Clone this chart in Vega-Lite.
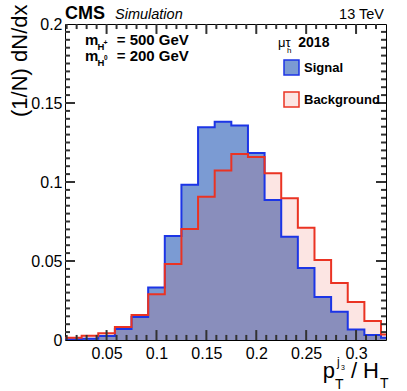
{
"$schema":"https://vega.github.io/schema/vega-lite/v6.json",
"width":321,"height":316,"autosize":"none",
"padding":{"left":65,"top":24,"right":21,"bottom":51},
"background":"white",
"config":{"view":{"stroke":null},"font":"Liberation Sans",
 "axis":{"labelFont":"Liberation Sans","labelFontSize":16,"labelColor":"black","domainColor":"black","grid":false,"domainWidth":1,"labelFlush":false,"labelOverlap":false,"titleColor":"black","zindex":2},
 "legend":{"symbolType":"square","symbolSize":225,"symbolStrokeWidth":1.5,"labelFont":"Liberation Sans","labelFontWeight":"bold","labelFontSize":13,"labelColor":"black","labelOffset":4,"rowPadding":11,"padding":0},
 "text":{"font":"Liberation Sans","color":"black","baseline":"alphabetic"}
},
"datasets":{
 "xmajor":[{"v":0.05},{"v":0.1},{"v":0.15},{"v":0.2},{"v":0.25},{"v":0.3}],
 "xminor":[{"v":0.01},{"v":0.02},{"v":0.03},{"v":0.04},{"v":0.06},{"v":0.07},{"v":0.08},{"v":0.09},{"v":0.11},{"v":0.12},{"v":0.13},{"v":0.14},{"v":0.16},{"v":0.17},{"v":0.18},{"v":0.19},{"v":0.21},{"v":0.22},{"v":0.23},{"v":0.24},{"v":0.26},{"v":0.27},{"v":0.28},{"v":0.29},{"v":0.31},{"v":0.32}],
 "ymajor":[{"v":0.05},{"v":0.1},{"v":0.15}],
 "yminor":[{"v":0.005},{"v":0.01},{"v":0.015},{"v":0.02},{"v":0.025},{"v":0.03},{"v":0.035},{"v":0.04},{"v":0.045},{"v":0.055},{"v":0.06},{"v":0.065},{"v":0.07},{"v":0.075},{"v":0.08},{"v":0.085},{"v":0.09},{"v":0.095},{"v":0.105},{"v":0.11},{"v":0.115},{"v":0.12},{"v":0.125},{"v":0.13},{"v":0.135},{"v":0.14},{"v":0.145},{"v":0.155},{"v":0.16},{"v":0.165},{"v":0.17},{"v":0.175},{"v":0.18},{"v":0.185},{"v":0.19},{"v":0.195}]
},
"data":{"values":[
{"x":0.008333,"Signal":0.0005,"Background":0.0015},
{"x":0.025,"Signal":0.0008,"Background":0.0027},
{"x":0.041667,"Signal":0.0025,"Background":0.0042},
{"x":0.058333,"Signal":0.007,"Background":0.0082},
{"x":0.075,"Signal":0.0146,"Background":0.0158},
{"x":0.091667,"Signal":0.0332,"Background":0.0289},
{"x":0.108333,"Signal":0.0658,"Background":0.0481},
{"x":0.125,"Signal":0.0983,"Background":0.0703},
{"x":0.141667,"Signal":0.1346,"Background":0.0907},
{"x":0.158333,"Signal":0.1382,"Background":0.1072},
{"x":0.175,"Signal":0.1357,"Background":0.1177},
{"x":0.191667,"Signal":0.1184,"Background":0.1158},
{"x":0.208333,"Signal":0.0886,"Background":0.1055},
{"x":0.225,"Signal":0.0654,"Background":0.0897},
{"x":0.241667,"Signal":0.0456,"Background":0.071},
{"x":0.258333,"Signal":0.0272,"Background":0.0506},
{"x":0.275,"Signal":0.0179,"Background":0.0361},
{"x":0.291667,"Signal":0.0067,"Background":0.024},
{"x":0.308333,"Signal":0.0031,"Background":0.0121},
{"x":0.325,"Signal":0.0015,"Background":0.0035},
{"x":0.341667,"Signal":0.0015,"Background":0.0035}
]},
"resolve":{"axis":{"x":"independent","y":"independent"}},
"layer":[
{"transform":[{"fold":["Signal","Background"],"as":["series","value"]},{"filter":"datum.series === 'Signal'"}],
 "mark":{"type":"area","interpolate":"step-after","strokeWidth":0,"clip":true},
 "encoding":{
  "x":{"field":"x","type":"quantitative","scale":{"domain":[0.008333,0.33],"nice":false,"zero":false},"axis":{"orient":"bottom","values":[0.05,0.1,0.15,0.2,0.25,0.3],"format":"~g","ticks":false,"labelPadding":5,"domain":false,"title":null}},
  "y":{"field":"value","type":"quantitative","stack":null,"scale":{"domain":[0,0.2],"nice":false},"axis":{"orient":"left","values":[0,0.05,0.1,0.15,0.2],"format":"~g","ticks":false,"labelPadding":3,"domain":false,"title":null}},
  "fill":{"field":"series","type":"nominal","scale":{"domain":["Signal","Background"],"range":["#7b9bd3","rgba(234,51,35,0.13)"]},"legend":{"orient":"none","legendX":218,"legendY":35,"title":null}},
  "stroke":{"field":"series","type":"nominal","scale":{"domain":["Signal","Background"],"range":["#1c35e6","#ea3323"]},"legend":{"orient":"none","legendX":218,"legendY":35,"title":null}}
 }},
{"transform":[{"fold":["Signal","Background"],"as":["series","value"]},{"filter":"datum.series === 'Background'"}],
 "mark":{"type":"area","interpolate":"step-after","strokeWidth":0,"clip":true},
 "encoding":{
  "x":{"field":"x","type":"quantitative","axis":null},
  "y":{"field":"value","type":"quantitative","stack":null,"axis":null},
  "fill":{"field":"series","type":"nominal","scale":{"domain":["Signal","Background"],"range":["#7b9bd3","rgba(234,51,35,0.13)"]},"legend":{"orient":"none","legendX":218,"legendY":35,"title":null}},
  "stroke":{"field":"series","type":"nominal","scale":{"domain":["Signal","Background"],"range":["#1c35e6","#ea3323"]},"legend":{"orient":"none","legendX":218,"legendY":35,"title":null}}
 }},
{"mark":{"type":"line","interpolate":"step-after","color":"#1c35e6","strokeWidth":2,"clip":true},
 "encoding":{"x":{"field":"x","type":"quantitative","axis":null},"y":{"field":"Signal","type":"quantitative","axis":null}}},
{"mark":{"type":"line","interpolate":"step-after","color":"#ea3323","strokeWidth":2,"clip":true},
 "encoding":{"x":{"field":"x","type":"quantitative","axis":null},"y":{"field":"Background","type":"quantitative","axis":null}}},
{"data":{"name":"xmajor"},"mark":{"type":"rule","color":"#333333","strokeWidth":2,"opacity":1},
 "encoding":{"x":{"field":"v","type":"quantitative","axis":null},"y":{"datum":0,"type":"quantitative","axis":null},"y2":{"datum":0.0063}}},
{"data":{"name":"xmajor"},"mark":{"type":"rule","color":"#333333","strokeWidth":2,"opacity":1},
 "encoding":{"x":{"field":"v","type":"quantitative","axis":null},"y":{"datum":0.2,"type":"quantitative","axis":null},"y2":{"datum":0.1937}}},
{"data":{"name":"xminor"},"mark":{"type":"rule","color":"#333333","strokeWidth":2,"opacity":1},
 "encoding":{"x":{"field":"v","type":"quantitative","axis":null},"y":{"datum":0,"type":"quantitative","axis":null},"y2":{"datum":0.0032}}},
{"data":{"name":"xminor"},"mark":{"type":"rule","color":"#333333","strokeWidth":2,"opacity":1},
 "encoding":{"x":{"field":"v","type":"quantitative","axis":null},"y":{"datum":0.2,"type":"quantitative","axis":null},"y2":{"datum":0.1968}}},
{"data":{"name":"ymajor"},"mark":{"type":"rule","color":"#333333","strokeWidth":2,"opacity":1},
 "encoding":{"y":{"field":"v","type":"quantitative","axis":null},"x":{"datum":0.008333,"type":"quantitative","axis":null},"x2":{"datum":0.018333}}},
{"data":{"name":"ymajor"},"mark":{"type":"rule","color":"#333333","strokeWidth":2,"opacity":1},
 "encoding":{"y":{"field":"v","type":"quantitative","axis":null},"x":{"datum":0.33,"type":"quantitative","axis":null},"x2":{"datum":0.32}}},
{"data":{"name":"yminor"},"mark":{"type":"rule","color":"#333333","strokeWidth":2,"opacity":1},
 "encoding":{"y":{"field":"v","type":"quantitative","axis":null},"x":{"datum":0.008333,"type":"quantitative","axis":null},"x2":{"datum":0.013333}}},
{"data":{"name":"yminor"},"mark":{"type":"rule","color":"#333333","strokeWidth":2,"opacity":1},
 "encoding":{"y":{"field":"v","type":"quantitative","axis":null},"x":{"datum":0.33,"type":"quantitative","axis":null},"x2":{"datum":0.325}}},
{"data":{"values":[{}]},"mark":{"type":"text","text":"CMS","fontWeight":"bold","fontSize":18,"align":"left","dx":0,"dy":-5.5},
 "encoding":{"x":{"datum":0.008333,"type":"quantitative","axis":{"orient":"bottom","ticks":false,"labels":false,"domain":true,"title":null}},"y":{"datum":0.2,"type":"quantitative","axis":{"orient":"left","ticks":false,"labels":false,"domain":true,"title":"(1/N) dN/dx","titleFont":"Liberation Sans","titleFontSize":22,"titleFontWeight":"normal","titleAlign":"right","titleBaseline":"alphabetic","titleAngle":-90,"titleX":-39,"titleY":-20}}}},
{"data":{"values":[{}]},"mark":{"type":"text","text":"Simulation","fontStyle":"italic","fontSize":14.5,"align":"left","dx":50,"dy":-5.5},
 "encoding":{"x":{"datum":0.008333,"type":"quantitative","axis":null},"y":{"datum":0.2,"type":"quantitative","axis":null}}},
{"data":{"values":[{}]},"mark":{"type":"text","text":"13 TeV","fontSize":14.5,"align":"right","dx":-2,"dy":-5.5},
 "encoding":{"x":{"datum":0.33,"type":"quantitative","axis":{"orient":"top","ticks":false,"labels":false,"domain":true,"title":null}},"y":{"datum":0.2,"type":"quantitative","axis":{"orient":"right","ticks":false,"labels":false,"domain":true,"title":null}}}},
{"data":{"values":[{}]},"mark":{"type":"text","text":"m","fontWeight":"bold","fontSize":15,"align":"left","dx":20,"dy":20.7},
 "encoding":{"x":{"datum":0.008333,"type":"quantitative","axis":null},"y":{"datum":0.2,"type":"quantitative","axis":null}}},
{"data":{"values":[{}]},"mark":{"type":"text","text":"H","fontWeight":"bold","fontSize":9.5,"align":"left","dx":32.5,"dy":25.5},
 "encoding":{"x":{"datum":0.008333,"type":"quantitative","axis":null},"y":{"datum":0.2,"type":"quantitative","axis":null}}},
{"data":{"values":[{}]},"mark":{"type":"text","text":"+","fontWeight":"bold","fontSize":7,"align":"left","dx":38.5,"dy":20.5},
 "encoding":{"x":{"datum":0.008333,"type":"quantitative","axis":null},"y":{"datum":0.2,"type":"quantitative","axis":null}}},
{"data":{"values":[{}]},"mark":{"type":"text","text":"= 500 GeV","fontWeight":"bold","fontSize":15,"align":"left","dx":51.7,"dy":20.7},
 "encoding":{"x":{"datum":0.008333,"type":"quantitative","axis":null},"y":{"datum":0.2,"type":"quantitative","axis":null}}},
{"data":{"values":[{}]},"mark":{"type":"text","text":"m","fontWeight":"bold","fontSize":15,"align":"left","dx":20,"dy":37.4},
 "encoding":{"x":{"datum":0.008333,"type":"quantitative","axis":null},"y":{"datum":0.2,"type":"quantitative","axis":null}}},
{"data":{"values":[{}]},"mark":{"type":"text","text":"H","fontWeight":"bold","fontSize":9.5,"align":"left","dx":32.5,"dy":42.2},
 "encoding":{"x":{"datum":0.008333,"type":"quantitative","axis":null},"y":{"datum":0.2,"type":"quantitative","axis":null}}},
{"data":{"values":[{}]},"mark":{"type":"text","text":"0","fontWeight":"bold","fontSize":6.5,"align":"left","dx":39,"dy":35.5},
 "encoding":{"x":{"datum":0.008333,"type":"quantitative","axis":null},"y":{"datum":0.2,"type":"quantitative","axis":null}}},
{"data":{"values":[{}]},"mark":{"type":"text","text":"= 200 GeV","fontWeight":"bold","fontSize":15,"align":"left","dx":51.7,"dy":37.4},
 "encoding":{"x":{"datum":0.008333,"type":"quantitative","axis":null},"y":{"datum":0.2,"type":"quantitative","axis":null}}},
{"data":{"values":[{}]},"mark":{"type":"text","text":"μτ","fontSize":13,"align":"left","dx":213,"dy":22.7},
 "encoding":{"x":{"datum":0.008333,"type":"quantitative","axis":null},"y":{"datum":0.2,"type":"quantitative","axis":null}}},
{"data":{"values":[{}]},"mark":{"type":"text","text":"h","fontSize":8,"align":"left","dx":222,"dy":29},
 "encoding":{"x":{"datum":0.008333,"type":"quantitative","axis":null},"y":{"datum":0.2,"type":"quantitative","axis":null}}},
{"data":{"values":[{}]},"mark":{"type":"text","text":"2018","fontWeight":"bold","fontSize":14,"align":"left","dx":233.3,"dy":22.7},
 "encoding":{"x":{"datum":0.008333,"type":"quantitative","axis":null},"y":{"datum":0.2,"type":"quantitative","axis":null}}},
{"data":{"values":[{}]},"mark":{"type":"text","text":"p","fontSize":22,"align":"right","dx":-51,"dy":38},
 "encoding":{"x":{"datum":0.33,"type":"quantitative","axis":null},"y":{"datum":0,"type":"quantitative","axis":null}}},
{"data":{"values":[{}]},"mark":{"type":"text","text":"j","fontSize":12,"align":"left","dx":-49,"dy":26},
 "encoding":{"x":{"datum":0.33,"type":"quantitative","axis":null},"y":{"datum":0,"type":"quantitative","axis":null}}},
{"data":{"values":[{}]},"mark":{"type":"text","text":"3","fontSize":7,"align":"left","dx":-45,"dy":30},
 "encoding":{"x":{"datum":0.33,"type":"quantitative","axis":null},"y":{"datum":0,"type":"quantitative","axis":null}}},
{"data":{"values":[{}]},"mark":{"type":"text","text":"T","fontSize":14,"align":"left","dx":-51,"dy":49},
 "encoding":{"x":{"datum":0.33,"type":"quantitative","axis":null},"y":{"datum":0,"type":"quantitative","axis":null}}},
{"data":{"values":[{}]},"mark":{"type":"text","text":"/ H","fontSize":22,"align":"right","dx":-7,"dy":38},
 "encoding":{"x":{"datum":0.33,"type":"quantitative","axis":null},"y":{"datum":0,"type":"quantitative","axis":null}}},
{"data":{"values":[{}]},"mark":{"type":"text","text":"T","fontSize":14,"align":"left","dx":-6,"dy":48},
 "encoding":{"x":{"datum":0.33,"type":"quantitative","axis":null},"y":{"datum":0,"type":"quantitative","axis":null}}}
]
}
